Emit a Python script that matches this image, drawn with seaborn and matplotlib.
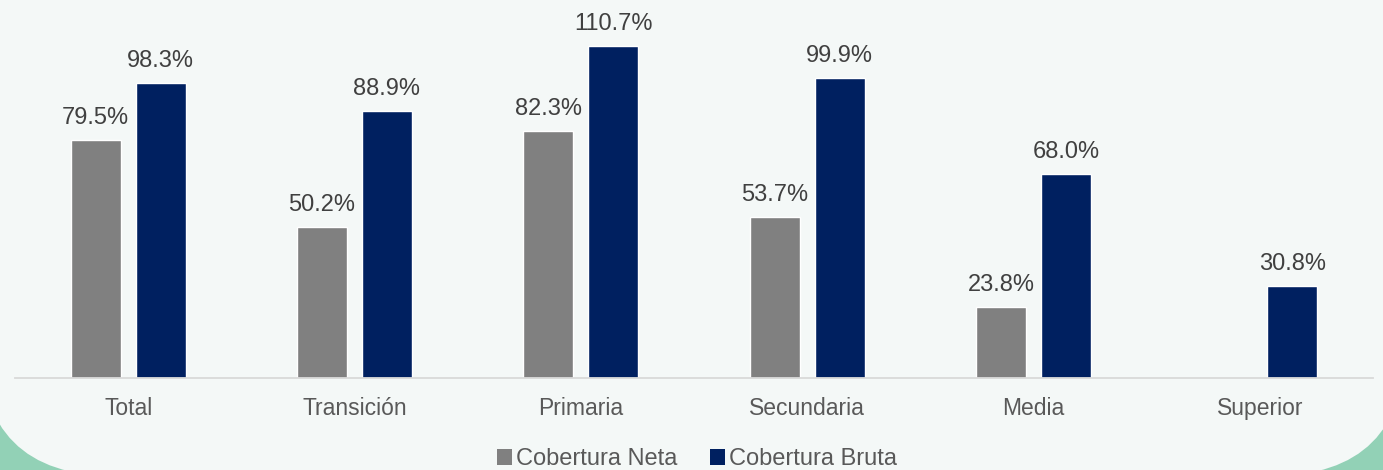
import numpy as np
import pandas as pd
import matplotlib
matplotlib.use("Agg")
import matplotlib.pyplot as plt
import seaborn as sns
from matplotlib.patches import FancyBboxPatch, Patch
from matplotlib.transforms import IdentityTransform

niveles = ["Total", "Transición", "Primaria", "Secundaria", "Media", "Superior"]
cobertura_neta = [79.5, 50.2, 82.3, 53.7, 23.8, np.nan]
cobertura_bruta = [98.3, 88.9, 110.7, 99.9, 68.0, 30.8]
series = ["Cobertura Neta", "Cobertura Bruta"]
colores = ["#808080", "#002060"]

df = pd.DataFrame({
    "nivel": niveles * 2,
    "serie": [series[0]] * len(niveles) + [series[1]] * len(niveles),
    "valor": cobertura_neta + cobertura_bruta,
})

sns.set_theme(style="white")
plt.rcParams['font.family'] = ['Liberation Sans', 'DejaVu Sans']

fig = plt.figure(figsize=(13.83, 4.70), dpi=100)
fig.patch.set_facecolor("#92D1B6")

# fondo claro con esquinas redondeadas (en pixeles)
panel = FancyBboxPatch((-20, -6), 1426, 800,
                       boxstyle="round,pad=0,rounding_size=135",
                       transform=IdentityTransform(), facecolor="#F4F8F7",
                       edgecolor="none", zorder=-5)
fig.patches.append(panel)

ax = fig.add_axes([15 / 1383, 92 / 470, 1358 / 1383, 360 / 470])
ax.set_facecolor("none")

sns.barplot(data=df, x="nivel", y="valor", hue="serie", palette=colores,
            width=0.574, gap=0.23, ax=ax, legend=False, saturation=1)

ax.set_ylim(0, 120)
ax.set_xlim(-0.5, len(niveles) - 0.5)

for cont in ax.containers:
    for bar in cont:
        h = bar.get_height()
        if np.isnan(h):
            continue
        ax.annotate(f"{h:.1f}%", (bar.get_x() + bar.get_width() / 2, h),
                    xytext=(0, 11.5), textcoords="offset points",
                    ha="center", va="baseline", fontsize=17,
                    color="#404040", annotation_clip=False)

for s in ["top", "right", "left"]:
    ax.spines[s].set_visible(False)
ax.spines["bottom"].set_color("#D9D9D9")
ax.spines["bottom"].set_linewidth(1.3)
ax.set_yticks([])
ax.set_xlabel("")
ax.set_ylabel("")
ax.tick_params(axis="x", length=0, pad=14, labelsize=16.5, labelcolor="#595959")

handles = [Patch(facecolor=c, edgecolor="none") for c in colores]
fig.legend(handles, series, loc="center", bbox_to_anchor=(697 / 1383, 1 - 459 / 470),
           ncol=2, frameon=False, fontsize=17, labelcolor="#595959",
           handlelength=0.64, handleheight=0.64, handletextpad=0.15,
           columnspacing=1.4, borderpad=0)

fig.savefig("out.png", dpi=100)
